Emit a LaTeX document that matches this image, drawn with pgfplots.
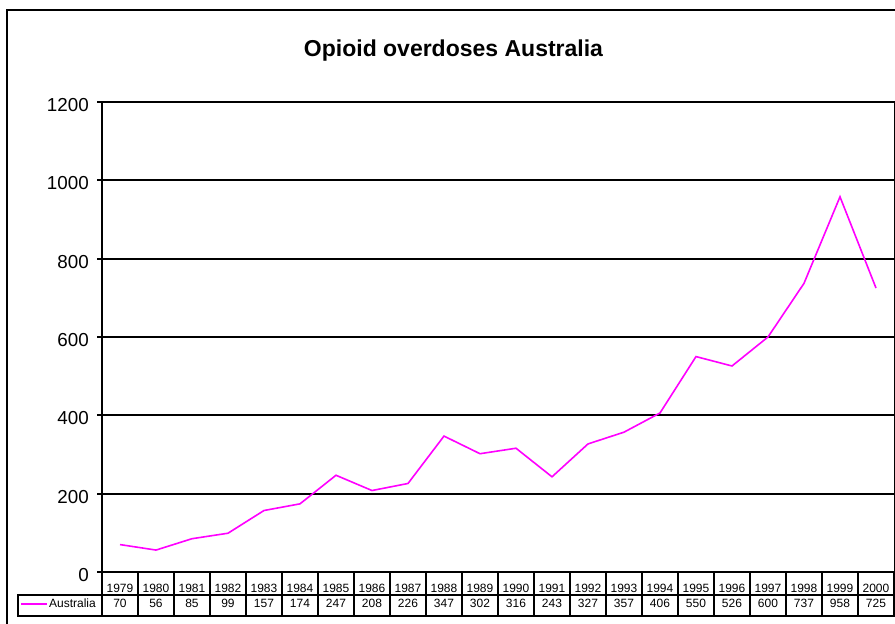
\documentclass[border=0pt]{standalone}
\usepackage{fontspec}
\setmainfont{Liberation Sans}
\usepackage{pgfplots}
\pgfplotsset{compat=1.18}
\usepackage{pgfplotstable}
\definecolor{linemag}{RGB}{255,0,255}

\pgfplotstableread{
year v
1979 70
1980 56
1981 85
1982 99
1983 157
1984 174
1985 247
1986 208
1987 226
1988 347
1989 302
1990 316
1991 243
1992 327
1993 357
1994 406
1995 550
1996 526
1997 600
1998 737
1999 958
2000 725
}\data

\begin{document}
\begin{tikzpicture}
\begin{axis}[name=ax, at={(0,0)}, anchor=south west,
  width=792pt, height=470pt, scale only axis,
  xmin=1978.5, xmax=2000.5, ymin=0, ymax=1200,
  clip=false,
  axis line style={draw=none},
  ytick={0,200,...,1200},
  ymajorgrids, major grid style={black, line width=2pt},
  xtick=data,
  xtick style={draw=none},
  ytick style={black, line width=2pt},
  tick align=outside, major tick length=5pt,
  yticklabel style={font=\fontsize{18.8}{20}\selectfont, anchor=east, inner sep=0pt, xshift=-8pt, yshift=-3pt},
  xticklabel style={font=\fontsize{12}{13}\selectfont, anchor=base, inner sep=0pt, yshift=-15.7pt},
  /pgf/number format/assume math mode=true,
  /pgf/number format/1000 sep={},
  legend style={at={(-0.00631,-0.0681)}, anchor=east, draw=none, fill=none, inner sep=0pt,
    font=\fontsize{12}{13}\selectfont, nodes={inner sep=1pt}},
  legend image code/.code={\draw[linemag, line width=1.6pt] (-0.1pt,0pt) -- (26pt,0pt);},
]
\addplot[linemag, line width=1.6pt, mark=none] table[x=year, y=v]{\data};
\addlegendentry{Australia}
\addplot[draw=none, mark=none, forget plot, nodes near coords, point meta=explicit symbolic,
  every node near coord/.style={anchor=base, yshift=-35.7pt, font=\fontsize{12}{13}\selectfont, text=black, inner sep=0pt}]
  table[x=year, y expr=0, meta=v]{\data};
\end{axis}
\begin{scope}[shift={(ax.south west)}, line width=2pt]
  \draw (0,0) -- (792pt,0);
  \draw (0,0) -- (0,470pt);
  \draw[line width=1pt] (792pt,0) -- (792pt,470pt);
  \draw (-84pt,-44pt) rectangle (792pt,-23pt);
  \foreach \k in {0,...,22} \draw ({\k*36pt},0) -- ({\k*36pt},-44pt);
  \draw[line width=1.6pt] (-95pt,-60pt) -- (-95pt,562pt) -- (800pt,562pt);
  \node[font=\fontsize{23}{26}\selectfont\bfseries, anchor=base] at (351.5pt,515pt) {Opioid overdoses Australia};
\end{scope}
\pgfresetboundingbox
\path[use as bounding box] ([shift={(-102pt,-52pt)}]ax.south west) rectangle ([shift={(793pt,572pt)}]ax.south west);
\end{tikzpicture}
\end{document}
